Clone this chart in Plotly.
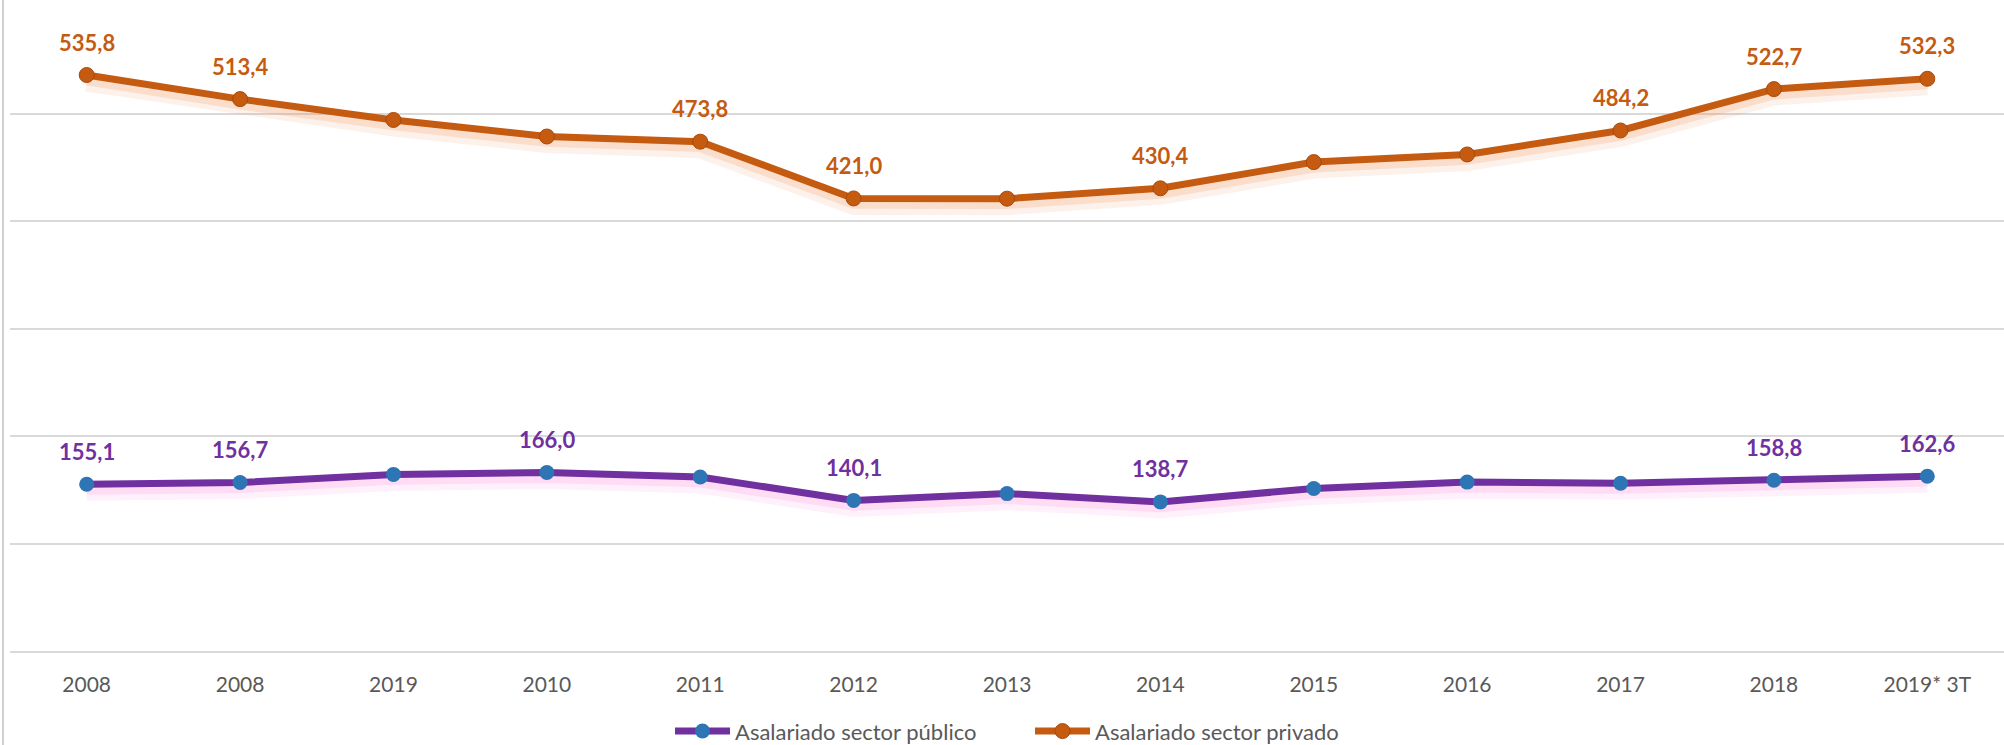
import plotly.graph_objects as go

categories = ["2008", "2008", "2019", "2010", "2011", "2012", "2013", "2014",
              "2015", "2016", "2017", "2018", "2019* 3T"]
publico = [155.1, 156.7, 164.3, 166.0, 161.9, 140.1, 146.4, 138.7, 151.2, 157.1, 156.0, 158.8, 162.6]
privado = [535.8, 513.4, 494.0, 478.6, 473.8, 421.0, 420.8, 430.4, 454.8, 461.9, 484.2, 522.7, 532.3]
publico_labeled = [0, 1, 3, 5, 7, 11, 12]
privado_labeled = [0, 1, 4, 5, 7, 10, 11, 12]
y_ticks = [0, 100, 200, 300, 400, 500, 600]

PURPLE = "#7030A0"
BLUE = "#2E75B6"
ORANGE = "#C55A11"
GRAY = "#595959"
GRID = "#D9D9D9"
FONT = "Lato"

x = list(range(len(categories)))

def fmt(v):
    return f"{v:.1f}".replace(".", ",")

fig = go.Figure()

# soft glow below the lines (visual effect only)
glows = [
    (publico, "rgba(255,140,220,0.12)", 18, 7),
    (publico, "rgba(255,140,220,0.22)", 10, 5),
    (privado, "rgba(240,150,90,0.12)", 18, 7),
    (privado, "rgba(240,150,90,0.22)", 10, 5),
]
for vals, col, w, off in glows:
    fig.add_trace(go.Scatter(x=x, y=[v - off for v in vals], mode="lines",
                             line=dict(color=col, width=w),
                             showlegend=False, hoverinfo="skip"))

fig.add_trace(go.Scatter(x=x, y=publico, mode="lines+markers",
                         name="Asalariado sector público",
                         line=dict(color=PURPLE, width=7),
                         marker=dict(color=BLUE, size=15, line=dict(width=0))))
fig.add_trace(go.Scatter(x=x, y=privado, mode="lines+markers",
                         name="Asalariado sector privado",
                         line=dict(color=ORANGE, width=7),
                         marker=dict(color=ORANGE, size=15, line=dict(color="#A84A0C", width=1))))

annotations = []
for i in publico_labeled:
    annotations.append(dict(x=x[i], y=publico[i], text=fmt(publico[i]), showarrow=False,
                            yshift=33, font=dict(family=FONT, size=22, color=PURPLE, weight="bold")))
for i in privado_labeled:
    annotations.append(dict(x=x[i], y=privado[i], text=fmt(privado[i]), showarrow=False,
                            yshift=33, font=dict(family=FONT, size=22, color=ORANGE, weight="bold")))

fig.update_layout(
    width=2004, height=745,
    margin=dict(l=10, r=0, t=6, b=94, autoexpand=False),
    paper_bgcolor="white", plot_bgcolor="white",
    font=dict(family=FONT, color=GRAY, size=21),
    annotations=annotations,
    showlegend=True,
    legend=dict(orientation="h", x=0.331, xanchor="left", y=-0.157, yanchor="bottom",
                font=dict(family=FONT, size=22, color=GRAY), itemwidth=55,
                entrywidth=290, entrywidthmode="pixels",
                traceorder="normal", bgcolor="rgba(0,0,0,0)"),
    shapes=[dict(type="line", xref="paper", yref="paper", layer="above",
                 x0=-0.0035, x1=-0.0035, y0=-0.15, y1=1.01,
                 line=dict(color="#D0D0D0", width=2))],
)
fig.update_xaxes(range=[-0.5, len(categories) - 0.5], tickvals=x, ticktext=categories,
                 showgrid=False, zeroline=False, showline=True, linecolor=GRID, linewidth=2,
                 ticks="outside", ticklen=14, tickcolor="rgba(0,0,0,0)",
                 tickfont=dict(family=FONT, size=21, color=GRAY), fixedrange=True)
fig.update_yaxes(range=[0, 600], tickvals=y_ticks, showticklabels=False,
                 showgrid=True, gridcolor=GRID, gridwidth=2, zeroline=False, fixedrange=True)

fig.write_html("out.html", config={"displayModeBar": False},
               post_script="document.body.style.margin='0';")
